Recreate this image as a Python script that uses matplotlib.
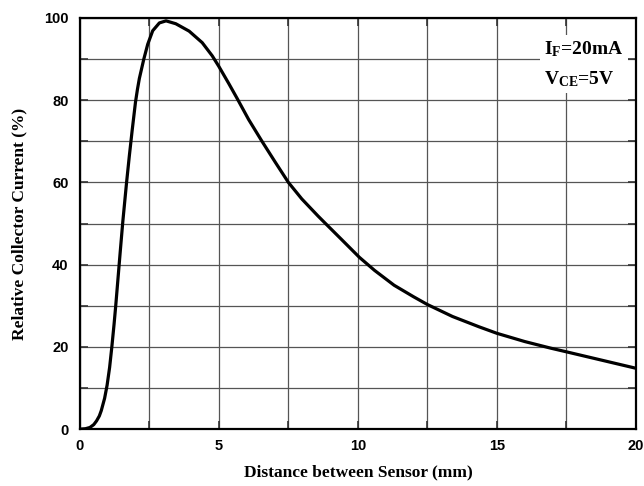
import numpy as np
import matplotlib
matplotlib.use('Agg')
import matplotlib.pyplot as plt
from matplotlib.ticker import MultipleLocator

# values
distance_mm = [0, 0.2, 0.36, 0.5, 0.6, 0.7, 0.77, 0.89, 0.98, 1.07, 1.15, 1.23,
               1.29, 1.37, 1.45, 1.545, 1.68, 1.78, 1.88, 2.0, 2.07, 2.14, 2.3,
               2.44, 2.62, 2.86, 3.1, 3.45, 3.93, 4.4, 4.76, 5.0, 5.36, 5.65,
               6.07, 6.55, 7.02, 7.5, 7.98, 8.57, 8.85, 9.4, 10.05, 10.6, 11.3,
               12.0, 12.5, 13.4, 14.35, 15.0, 16.0, 16.93, 17.5, 18.75, 20]
rel_current = [0, 0.1, 0.4, 1.1, 2.0, 3.2, 4.5, 7.5, 10.7, 15, 20, 25.5,
               30, 36.5, 43, 50.5, 60, 66.5, 72.6, 79.5, 82.6, 85.3, 90,
               93.6, 96.9, 98.8, 99.3, 98.6, 96.8, 94, 90.8, 88.2, 84, 80.5,
               75.3, 70, 65, 60, 56.0, 51.8, 49.9, 46.2, 41.8, 38.6, 35.0,
               32.2, 30.3, 27.4, 24.9, 23.3, 21.3, 19.7, 18.8, 16.8, 14.8]

x_ticks = [0, 5, 10, 15, 20]
y_ticks = [0, 20, 40, 60, 80, 100]

plt.rcParams['mathtext.fontset'] = 'custom'
plt.rcParams['mathtext.rm'] = 'Liberation Serif:bold'
plt.rcParams['mathtext.it'] = 'Liberation Serif:bold'
plt.rcParams['mathtext.bf'] = 'Liberation Serif:bold'

fig = plt.figure(figsize=(6.44, 4.86), dpi=100)
ax = fig.add_axes([0.124, 0.117, 0.8636, 0.846])

ax.plot(distance_mm, rel_current, color='black', lw=2.3,
        solid_capstyle='round', solid_joinstyle='round')

ax.set_xlim(0, 20)
ax.set_ylim(0, 100)
ax.set_xticks(x_ticks)
ax.set_yticks(y_ticks)
ax.xaxis.set_minor_locator(MultipleLocator(2.5))
ax.yaxis.set_minor_locator(MultipleLocator(10))
ax.grid(True, which='both', color='#555555', lw=0.9)
ax.set_axisbelow(True)

ax.tick_params(which='both', direction='in', top=True, right=True, length=6,
               width=1.2, color='#333333')
ax.tick_params(axis='x', pad=7)
ax.tick_params(axis='y', pad=8)
for lab in ax.get_xticklabels() + ax.get_yticklabels():
    lab.set_fontfamily('Liberation Sans')
    lab.set_fontweight('bold')
    lab.set_fontsize(10.5)

for sp in ax.spines.values():
    sp.set_linewidth(1.6)

ax.set_xlabel('Distance between Sensor (mm)', fontfamily='Liberation Serif',
              fontweight='bold', fontsize=12.5, labelpad=8)
ax.set_ylabel('Relative Collector Current (%)', fontfamily='Liberation Serif',
              fontweight='bold', fontsize=12.5, labelpad=12)

ax.text(0.835, 0.948, r'$\mathrm{I_F}$=20mA' + '\n' + r'$\mathrm{V_{CE}}$=5V',
        transform=ax.transAxes, ha='left', va='top', linespacing=1.7,
        multialignment='left',
        fontfamily='Liberation Serif', fontweight='bold', fontsize=14,
        bbox=dict(facecolor='white', edgecolor='none', pad=3))

fig.savefig('out.png', dpi=100)
